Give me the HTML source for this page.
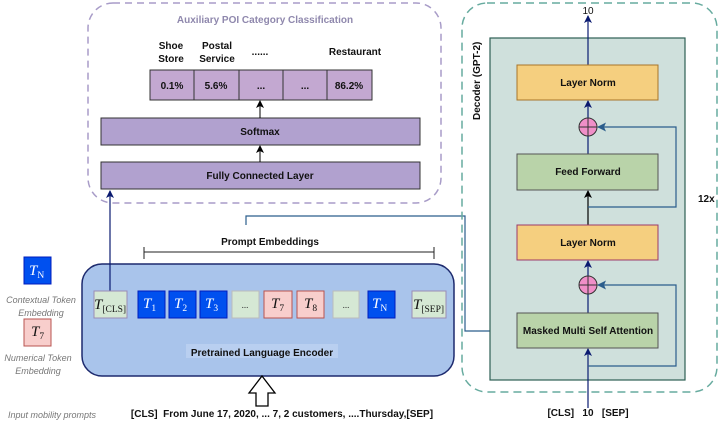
<!DOCTYPE html>
<html><head><meta charset="utf-8"><style>
html,body{margin:0;padding:0;background:#fff}
svg{display:block;font-family:"Liberation Sans",Arial,sans-serif}
text{white-space:pre}
.b{font-weight:bold;font-size:10px;fill:#111}
.m{font-family:"Liberation Serif",serif;font-style:italic;font-size:15px}
.s{font-family:"Liberation Serif",serif;font-style:normal;font-size:9.5px}
.leg{font-style:italic;font-size:9px;fill:#777}
</style></head><body>
<svg width="726" height="425" viewBox="0 0 726 425">
<defs>
<marker id="a" markerWidth="8" markerHeight="8" refX="7" refY="4" orient="auto" markerUnits="userSpaceOnUse"><path d="M0,0 L8,4 L0,8 L2,4z" fill="#000"/></marker>
<marker id="n" markerWidth="8" markerHeight="8" refX="7" refY="4" orient="auto" markerUnits="userSpaceOnUse"><path d="M0,0 L8,4 L0,8 L2,4z" fill="#0a1a70"/></marker>
<marker id="t" markerWidth="9" markerHeight="9" refX="8" refY="4.5" orient="auto" markerUnits="userSpaceOnUse"><path d="M0,0 L9,4.5 L0,9 L2,4.5z" fill="#2b5d8c"/></marker>
</defs>
<rect x="88" y="3" width="353" height="200" rx="25" fill="none" stroke="#a89cc8" stroke-width="1.5" stroke-dasharray="7,5"/>
<text x="265" y="23" text-anchor="middle" font-size="10" font-weight="bold" fill="#8f88ad">Auxiliary POI Category Classification</text>
<g class="b" text-anchor="middle">
<text x="171" y="49">Shoe</text><text x="171" y="62">Store</text>
<text x="217" y="49">Postal</text><text x="217" y="62">Service</text>
<text x="260" y="55">......</text>
<text x="355" y="55">Restaurant</text>
</g>
<g fill="#c3a8d1" stroke="#333" stroke-width="1">
<rect x="150" y="70" width="44" height="30"/><rect x="194" y="70" width="45" height="30"/><rect x="239" y="70" width="44" height="30"/><rect x="283" y="70" width="44" height="30"/><rect x="327" y="70" width="45" height="30"/>
</g>
<g class="b" text-anchor="middle">
<text x="172" y="89">0.1%</text><text x="216" y="89">5.6%</text><text x="261" y="89">...</text><text x="305" y="89">...</text><text x="349" y="89">86.2%</text>
</g>
<rect x="101" y="118" width="319" height="27" fill="#b1a1cf" stroke="#333"/>
<text x="260" y="135" class="b" text-anchor="middle">Softmax</text>
<rect x="101" y="162" width="319" height="27" fill="#b1a1cf" stroke="#333"/>
<text x="260" y="179" class="b" text-anchor="middle">Fully Connected Layer</text>
<line x1="260" y1="162" x2="260" y2="146" stroke="#000" marker-end="url(#a)"/>
<line x1="260" y1="118" x2="260" y2="101" stroke="#000" marker-end="url(#a)"/>
<text x="270" y="245" class="b" text-anchor="middle">Prompt Embeddings</text>
<path d="M144,247 V259 M144,252 H434 M434,247 V259" stroke="#222" fill="none"/>
<path d="M246,225 V216 H465 V331 H516" fill="none" stroke="#2b5d8c" stroke-width="1.2" marker-end="url(#t)"/>
<rect x="82" y="264" width="372" height="112" rx="20" fill="#a9c4eb" stroke="#1d2a6e" stroke-width="1.5"/>
<line x1="110" y1="291" x2="110" y2="191" stroke="#0a1a70" stroke-width="1.2" marker-end="url(#n)"/>
<g stroke-width="1">
<rect x="94" y="291" width="33" height="27" fill="#d5e8d4" stroke="#9a8bb5"/>
<rect x="138" y="291" width="27" height="27" fill="#0050ef" stroke="#001dbc"/>
<rect x="169" y="291" width="27" height="27" fill="#0050ef" stroke="#001dbc"/>
<rect x="200" y="291" width="27" height="27" fill="#0050ef" stroke="#001dbc"/>
<rect x="232" y="291" width="27" height="27" fill="#d5e8d4" stroke="#bbb"/>
<rect x="264" y="291" width="28" height="27" fill="#f8cecc" stroke="#b85450"/>
<rect x="297" y="291" width="27" height="27" fill="#f8cecc" stroke="#b85450"/>
<rect x="333" y="291" width="26" height="27" fill="#d5e8d4" stroke="#bbb"/>
<rect x="368" y="291" width="27" height="27" fill="#0050ef" stroke="#001dbc"/>
<rect x="412" y="291" width="34" height="27" fill="#d5e8d4" stroke="#9a8bb5"/>
</g>
<g class="m">
<text x="94" y="309" fill="#111">T<tspan class="s" dy="3">[CLS]</tspan></text>
<text x="143" y="308" fill="#fff">T<tspan class="s" dy="3">1</tspan></text>
<text x="174" y="308" fill="#fff">T<tspan class="s" dy="3">2</tspan></text>
<text x="205" y="308" fill="#fff">T<tspan class="s" dy="3">3</tspan></text>
<text x="245" y="308" text-anchor="middle" font-size="9" font-style="normal" fill="#333">...</text>
<text x="271" y="308" fill="#111">T<tspan class="s" dy="3">7</tspan></text>
<text x="304" y="308" fill="#111">T<tspan class="s" dy="3">8</tspan></text>
<text x="346" y="308" text-anchor="middle" font-size="9" font-style="normal" fill="#333">...</text>
<text x="372" y="308" fill="#fff">T<tspan class="s" dy="3" font-style="italic">N</tspan></text>
<text x="413" y="309" fill="#111">T<tspan class="s" dy="3">[SEP]</tspan></text>
</g>
<rect x="186" y="344" width="152" height="14" fill="#b9cff0"/>
<text x="262" y="356" class="b" text-anchor="middle">Pretrained Language Encoder</text>
<path d="M262,376 L275,393 H268 V406 H256 V393 H249 Z" fill="#fff" stroke="#000" stroke-width="1.3"/>
<text x="282" y="417" class="b" text-anchor="middle">[CLS]  From June 17, 2020, ... 7, 2 customers, ....Thursday,[SEP]</text>
<rect x="24" y="257" width="27" height="27" fill="#0050ef" stroke="#001dbc"/>
<text x="29" y="275" class="m" fill="#fff">T<tspan class="s" dy="3" font-style="italic">N</tspan></text>
<text x="41" y="303" class="leg" text-anchor="middle">Contextual Token</text>
<text x="41" y="316" class="leg" text-anchor="middle">Embedding</text>
<rect x="24" y="319" width="27" height="27" fill="#f8cecc" stroke="#b85450"/>
<text x="31" y="336" class="m" fill="#111">T<tspan class="s" dy="3">7</tspan></text>
<text x="38" y="361" class="leg" text-anchor="middle">Numerical Token</text>
<text x="38" y="374" class="leg" text-anchor="middle">Embedding</text>
<text x="8" y="418" class="leg">Input mobility prompts</text>
<rect x="462" y="3" width="255" height="389" rx="25" fill="none" stroke="#67ab9f" stroke-width="1.5" stroke-dasharray="8,5"/>
<rect x="490" y="38" width="195" height="342" fill="#cfe0dc" stroke="#2d5f54" stroke-width="1.2"/>
<text transform="translate(480,120) rotate(-90)" class="b">Decoder (GPT-2)</text>
<line x1="588" y1="408" x2="588" y2="349" stroke="#0a1a70" stroke-width="1.2" marker-end="url(#n)"/>
<line x1="588" y1="313" x2="588" y2="261" stroke="#0a1a70" stroke-width="1.2" marker-end="url(#n)"/>
<line x1="588" y1="225" x2="588" y2="191" stroke="#000" stroke-width="1.2" marker-end="url(#a)"/>
<line x1="588" y1="154" x2="588" y2="101" stroke="#0a1a70" stroke-width="1.2" marker-end="url(#n)"/>
<line x1="588" y1="65" x2="588" y2="16" stroke="#0a1a70" stroke-width="1.2" marker-end="url(#n)"/>
<path d="M588,366 H676 V285 H598" fill="none" stroke="#2b5d8c" stroke-width="1.2" marker-end="url(#t)"/>
<path d="M588,207 H676 V127 H598" fill="none" stroke="#2b5d8c" stroke-width="1.2" marker-end="url(#t)"/>
<rect x="517" y="65" width="141" height="35" fill="#f5cf7f" stroke="#a8742a"/>
<text x="588" y="86" class="b" text-anchor="middle">Layer Norm</text>
<rect x="517" y="154" width="141" height="36" fill="#b9d3a9" stroke="#555"/>
<text x="588" y="175" class="b" text-anchor="middle">Feed Forward</text>
<rect x="517" y="225" width="141" height="35" fill="#f5cf7f" stroke="#9c3a6a"/>
<text x="588" y="246" class="b" text-anchor="middle">Layer Norm</text>
<rect x="517" y="313" width="141" height="35" fill="#b9d3a9" stroke="#555"/>
<text x="588" y="334" class="b" text-anchor="middle">Masked Multi Self Attention</text>
<g stroke="#333" stroke-width="1">
<circle cx="588" cy="127" r="9" fill="#f08fc8"/><path d="M579,127 H597 M588,118 V136"/>
<circle cx="588" cy="285" r="9" fill="#f08fc8"/><path d="M579,285 H597 M588,276 V294"/>
</g>
<text x="698" y="202" class="b">12x</text>
<text x="588" y="14" text-anchor="middle" font-size="10" fill="#111">10</text>
<text x="588" y="416" class="b" text-anchor="middle">[CLS]   10   [SEP]</text>
</svg>
</body></html>
